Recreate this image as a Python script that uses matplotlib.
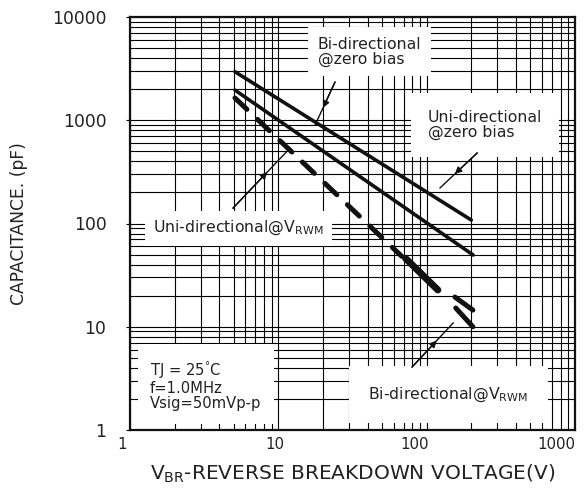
import matplotlib
matplotlib.use('Agg')
import matplotlib.pyplot as plt
import matplotlib.transforms as mtransforms
from matplotlib.ticker import LogLocator, NullFormatter, FixedFormatter, FixedLocator

plt.rcParams['font.family'] = ['DejaVu Sans']
plt.rcParams['mathtext.fontset'] = 'dejavusans'

# Curves (V, pF)
v_uni_zero = [5.1, 200]
c_uni_zero = [2950, 108]

v_bi_zero = [5.1, 206]
c_bi_zero = [1960, 49.5]

v_uni_rwm = [5.1, 68]
c_uni_rwm = [1643, 48]
v_uni_rwm_end = [72, 119]
c_uni_rwm_end = [46, 22.7]

v_rwm_a = [155, 205]
c_rwm_a = [19.4, 14.5]
v_rwm_b = [157, 205]
c_rwm_b = [15.2, 10.0]

x_ticks = [1, 10, 100, 1000]
x_labels = ['1', '10', '100', '1000']
y_ticks = [1, 10, 100, 1000, 10000]
y_labels = ['1', '10', '100', '1000', '10000']

fig = plt.figure(figsize=(5.84, 4.88), dpi=100)
ax = fig.add_axes([130 / 584, 58 / 488, 445 / 584, 413 / 488])
ax.set_xscale('log')
ax.set_yscale('log')
ax.set_xlim(1, 1000)
ax.set_ylim(1, 10000)

ax.grid(True, which='both', color='black', linewidth=0.8, zorder=0)
ax.set_axisbelow(True)

ink = '#111111'
ax.plot(v_uni_zero, c_uni_zero, color=ink, lw=2.6, solid_capstyle='round', zorder=5)
ax.plot(v_bi_zero, c_bi_zero, color=ink, lw=2.6, solid_capstyle='round', zorder=5)
ax.plot(v_uni_rwm, c_uni_rwm, color=ink, lw=3.6, dashes=(3.3, 2.9),
        dash_capstyle='round', zorder=5)
ax.plot(v_uni_rwm_end, c_uni_rwm_end, color=ink, lw=5, solid_capstyle='round', zorder=5)
ax.plot(v_rwm_a, c_rwm_a, color=ink, lw=3.6, solid_capstyle='round', zorder=5)
ax.plot(v_rwm_b, c_rwm_b, color=ink, lw=3.6, solid_capstyle='round', zorder=5)

tcol = '#222222'
fs = 11.3
ax.text(18.5, 6400, 'Bi-directional\n@zero bias', fontsize=fs, color=tcol,
        va='top', ha='left', linespacing=0.95,
        bbox=dict(facecolor='white', edgecolor='none', pad=7), zorder=3)
ax.text(102, 1259, 'Uni-directional\n@zero bias', fontsize=fs, color=tcol,
        va='top', ha='left', linespacing=1.0,
        bbox=dict(facecolor='white', edgecolor='none', pad=12), zorder=3)
ax.text(1.43, 90, r'Uni-directional@V$_{\rm RWM}$', fontsize=fs, color=tcol,
        va='center', ha='left',
        bbox=dict(facecolor='white', edgecolor='none', pad=6), zorder=3)
ax.text(40.3, 2.2, r'Bi-directional@V$_{\rm RWM}$', fontsize=fs, color=tcol,
        va='center', ha='left',
        bbox=dict(facecolor='white', edgecolor='none', pad=14), zorder=3)
ax.text(1.365, 4.9, 'TJ = 25$^{\\degree}$C\nf=1.0MHz\nVsig=50mVp-p', fontsize=10.6,
        color=tcol, va='top', ha='left', linespacing=1.0,
        bbox=dict(facecolor='white', edgecolor='none', pad=9), zorder=3)

# pointer lines with a small head partway along
pointers = [((24.1, 2344), (17.7, 900)),
            ((219, 482), (123, 221)),
            ((4.95, 141), (12.0, 538)),
            ((79.7, 4.07), (151, 10.9))]
for (x0, y0), (x1, y1) in pointers:
    ax.plot([x0, x1], [y0, y1], color=ink, lw=1.0, zorder=6)
    xm = (x0 * x1) ** 0.5 * (x1 / x0) ** 0.1
    ym = (y0 * y1) ** 0.5 * (y1 / y0) ** 0.1
    ax.annotate('', xy=(xm, ym), xytext=(x0, y0),
                arrowprops=dict(arrowstyle='-|>', color=ink, lw=1.0,
                                mutation_scale=10, shrinkA=0, shrinkB=0),
                zorder=6)

for s in ax.spines.values():
    s.set_linewidth(1.6)
    s.set_color('#111111')

ax.xaxis.set_major_locator(FixedLocator(x_ticks))
ax.xaxis.set_major_formatter(FixedFormatter(x_labels))
ax.yaxis.set_major_locator(FixedLocator(y_ticks))
ax.yaxis.set_major_formatter(FixedFormatter(y_labels))
ax.xaxis.set_minor_locator(LogLocator(base=10, subs=range(2, 10)))
ax.yaxis.set_minor_locator(LogLocator(base=10, subs=range(2, 10)))
ax.xaxis.set_minor_formatter(NullFormatter())
ax.yaxis.set_minor_formatter(NullFormatter())
ax.tick_params(axis='y', which='major', direction='out', length=3, pad=14,
               labelsize=12.3, labelcolor=tcol)
ax.tick_params(axis='x', which='major', direction='out', length=0, pad=5,
               labelsize=10.8, labelcolor=tcol)
ax.tick_params(which='minor', length=0)

# the x tick labels sit a little left of their ticks in the source
x_shift = [-8, -4, -12, -19]
for lab, dx in zip(ax.get_xticklabels(), x_shift):
    lab.set_transform(lab.get_transform() +
                      mtransforms.ScaledTranslation(dx / 100, 0, fig.dpi_scale_trans))

ax.set_xlabel(r'V$_{\rm BR}$-REVERSE BREAKDOWN VOLTAGE(V)', fontsize=14.5,
              color=tcol, labelpad=8)
ax.set_ylabel('CAPACITANCE. (pF)', fontsize=12.3, color=tcol, labelpad=17)

fig.savefig('out.png', dpi=100)
